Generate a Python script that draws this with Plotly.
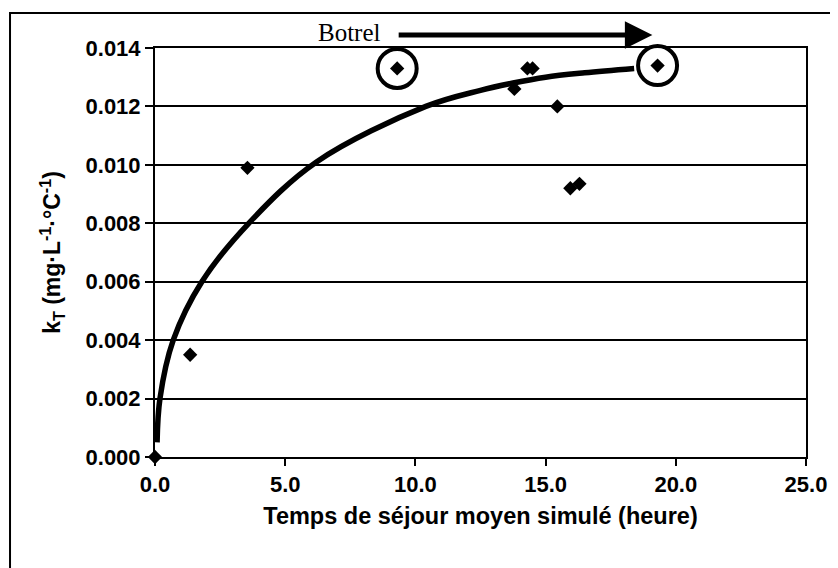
import plotly.graph_objects as go

# Observed points (mean simulated residence time in h, kT)
temps = [0.0, 1.35, 3.55, 9.3, 13.8, 14.3, 14.5, 15.45, 15.95, 16.3, 19.3]
kt = [0.0, 0.0035, 0.0099, 0.0133, 0.0126, 0.0133, 0.0133, 0.0120, 0.0092, 0.00935, 0.0134]

# Circled (Botrel) points
botrel_temps = [9.3, 19.3]
botrel_kt = [0.0133, 0.0134]

# Fitted trend curve
trend_temps = [0.08, 0.19, 0.7, 1.8, 3.6, 6.2, 10.4, 12.5, 13.75, 15.0, 16.5, 18.4]
trend_kt = [0.0005, 0.0020, 0.0040, 0.0060, 0.0080, 0.0101, 0.0120, 0.01255, 0.0128, 0.0130, 0.01315, 0.0133]

x_ticks = [0, 5, 10, 15, 20, 25]
y_ticks = [0.000, 0.002, 0.004, 0.006, 0.008, 0.010, 0.012, 0.014]

arrow_start, arrow_end = 9.3, 19.1

font_main = "Arial, Liberation Sans, sans-serif"

fig = go.Figure()
fig.add_trace(go.Scatter(
    x=trend_temps, y=trend_kt, mode="lines",
    line=dict(color="black", width=5.5, shape="spline", smoothing=1.0),
    hoverinfo="skip", showlegend=False,
))
fig.add_trace(go.Scatter(
    x=temps, y=kt, mode="markers",
    marker=dict(symbol="diamond", size=11, color="black"),
    cliponaxis=False, showlegend=False,
))
fig.add_trace(go.Scatter(
    x=botrel_temps, y=botrel_kt, mode="markers",
    marker=dict(symbol="circle-open", size=39, color="black",
                line=dict(color="black", width=4)),
    cliponaxis=False, showlegend=False,
))

fig.update_layout(
    width=830, height=560,
    margin=dict(l=147, r=32, t=40, b=111),
    paper_bgcolor="white", plot_bgcolor="white",
    font=dict(family=font_main, color="black"),
    xaxis=dict(
        range=[0, 25], tickvals=x_ticks, tickformat=".1f",
        showgrid=False, zeroline=False,
        showline=True, linecolor="black", linewidth=2, mirror=True,
        ticks="outside", ticklen=7, tickwidth=1.5, tickcolor="black",
        tickfont=dict(size=22, weight="bold", family=font_main),
        title=dict(text="Temps de séjour moyen simulé (heure)",
                   font=dict(size=23.5, weight="bold", family=font_main), standoff=11),
    ),
    yaxis=dict(
        range=[0, 0.014], tickvals=y_ticks, tickformat=".3f",
        showgrid=True, gridcolor="black", gridwidth=2, zeroline=False,
        showline=True, linecolor="black", linewidth=2, mirror=True,
        ticks="outside", ticklen=8, tickwidth=1.5, tickcolor="black",
        tickfont=dict(size=22, weight="bold", family=font_main),
        title=dict(text="k<sub>T</sub> (mg·L<sup>-1</sup>·°C<sup>-1</sup>)",
                   font=dict(size=23, weight="bold", family=font_main), standoff=18),
    ),
    shapes=[
        dict(type="rect", xref="paper", yref="paper",
             x0=-0.2227, x1=1.2, y0=-0.6, y1=1.0856,
             line=dict(color="black", width=2), fillcolor="rgba(0,0,0,0)", layer="below"),
    ],
    annotations=[
        dict(text="Botrel", x=7.45, y=1.0367, xref="x", yref="paper",
             xanchor="center", yanchor="middle",
             showarrow=False, font=dict(family="Liberation Serif, Times New Roman, serif", size=25)),
        dict(text="", x=arrow_end, y=1.0318, ax=arrow_start, ay=0,
             xref="x", yref="paper", axref="x", ayref="pixel",
             showarrow=True, arrowhead=2, arrowwidth=5, arrowsize=1.1, arrowcolor="black"),
    ],
)

fig.write_html("out.html")
